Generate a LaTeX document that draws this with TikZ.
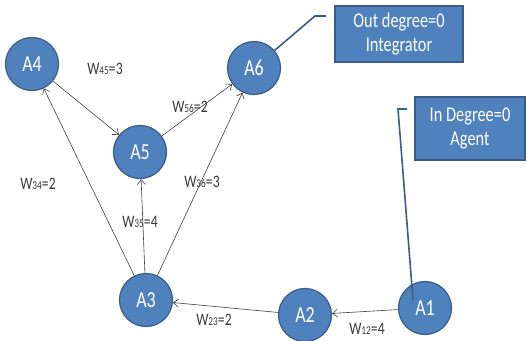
\documentclass[tikz,border=0pt]{standalone}
\usepackage{fontspec}
\setmainfont{Carlito}
\usetikzlibrary{arrows.meta}
\definecolor{nodefill}{HTML}{4F81BD}
\definecolor{nodeline}{HTML}{385D8A}
\definecolor{edgecol}{HTML}{404040}
\newcommand\sq[1]{\scalebox{0.78}[1]{#1}}
\newcommand\wl[2]{\sq{W{\fontsize{12}{12}\selectfont\raisebox{-0.5pt}{#1}}=#2}}
\tikzset{
  agent/.style={circle, fill=nodefill, draw=nodeline, line width=1.2pt, minimum size=53pt, inner sep=0pt, text=white, font=\fontsize{23}{23}\selectfont},
  infobox/.style={rectangle, fill=nodefill, draw=nodeline, line width=1.2pt, text=white, align=center, inner sep=0pt, font=\fontsize{21}{24}\selectfont},
  edge/.style={draw=edgecol, line width=0.6pt, -{Straight Barb[length=5pt,width=8pt]}},
  callout/.style={draw=nodeline, line width=1.6pt},
  wlabel/.style={text=edgecol!90!black, inner sep=0pt, font=\fontsize{17.5}{17.5}\selectfont}
}
\begin{document}
\begin{tikzpicture}[x=1pt,y=-1pt]
\useasboundingbox (0,0) rectangle (527,340);
\coordinate (c1a) at (326,16);
\coordinate (c1b) at (315,16);
\coordinate (c2a) at (407,109);
\coordinate (c2b) at (398,109);
\coordinate (c2c) at (413,300);

\node[agent] (A4) at (32,64) {\sq{A4}};
\node[agent] (A6) at (254,68) {\sq{A6}};
\node[agent] (A5) at (140,152) {\sq{A5}};
\node[agent] (A3) at (146,300) {\sq{A3}};
\node[agent] (A2) at (305,315) {\sq{A2}};
\node[agent] (A1) at (425,308) {\sq{A1}};

\node[infobox, minimum width=128pt, minimum height=56pt] (B1) at (399,34) {\sq{Out degree=0}\\\sq{Integrator}};
\node[infobox, minimum width=110pt, minimum height=63pt] (B2) at (470,128.5) {\sq{In Degree=0}\\\sq{Agent}};

\draw[callout] (c1a) -- (c1b) -- (A6);
\draw[callout] (c2a) -- (c2b) -- (c2c);

\draw[edge] (A4) -- (A5);
\draw[edge] (A5) -- (A6);
\draw[edge] (A3) -- (A4);
\draw[edge] (A3) -- (A5);
\draw[edge] (A3) -- (A6);
\draw[edge] (A2) -- (A3);
\draw[edge] (A1) -- (A2);

\node[wlabel] (L45) at (105,69) {\wl{45}{3}};
\node[wlabel] (L56) at (190,107) {\wl{56}{2}};
\node[wlabel] (L34) at (38,184) {\wl{34}{2}};
\node[wlabel] (L35) at (140,222) {\wl{35}{4}};
\node[wlabel] (L36) at (202,182) {\wl{36}{3}};
\node[wlabel] (L23) at (214,320) {\wl{23}{2}};
\node[wlabel] (L12) at (367,329) {\wl{12}{4}};
\end{tikzpicture}
\end{document}
